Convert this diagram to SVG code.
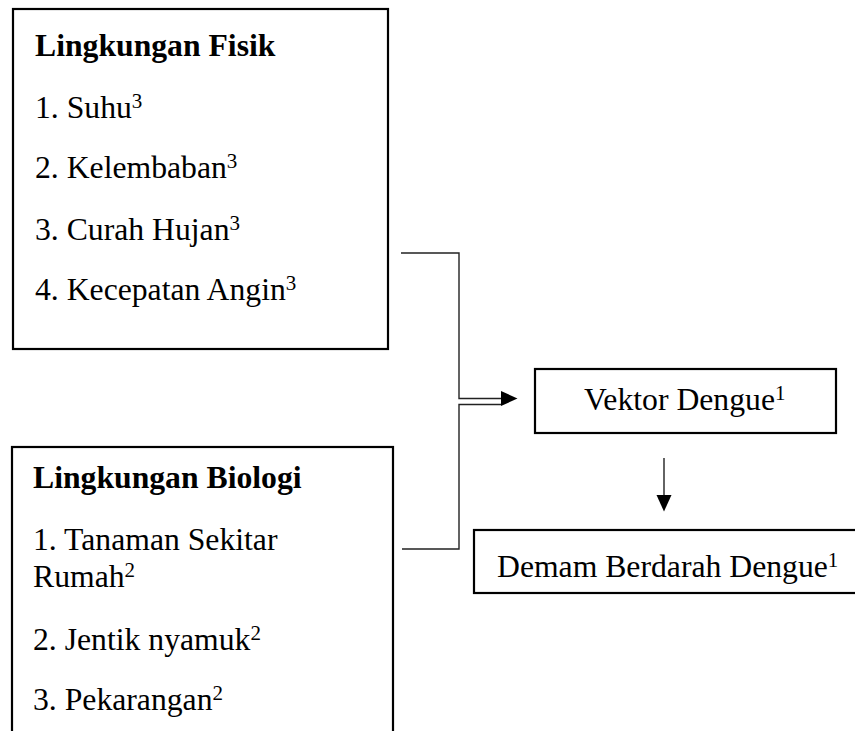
<svg xmlns="http://www.w3.org/2000/svg" width="855" height="731" viewBox="0 0 855 731">
<style>
.box{fill:#fff;stroke:#000;stroke-width:2.2}
.t{font-family:"Liberation Serif","Times New Roman",serif;font-size:31.7px;fill:#000}
.b{font-weight:bold}
.sup{font-size:21px}
.con{fill:none;stroke:#222;stroke-width:1.4}
</style>
<defs>
<marker id="ah" markerUnits="userSpaceOnUse" markerWidth="17" markerHeight="16" refX="0" refY="7.5" orient="auto" viewBox="0 0 17 16">
<path d="M0,0 L16.5,7.5 L0,15 z" fill="#000"/>
</marker>
</defs>
<rect width="855" height="731" fill="#fff"/>
<g id="connectors">
<path class="con" d="M401,253 H459 V398.5 H501" marker-end="url(#ah)"/>
<path class="con" d="M402,549 H459 V404.5 H501"/>
<path class="con" d="M664,458 V495" marker-end="url(#ah)"/>
</g>
<g id="lingkungan-fisik">
<rect class="box" x="13" y="9" width="375" height="340"/>
<text class="t b" x="35" y="56">Lingkungan Fisik</text>
<text class="t" x="35" y="118">1. Suhu<tspan class="sup" dy="-10">3</tspan></text>
<text class="t" x="35" y="178">2. Kelembaban<tspan class="sup" dy="-10">3</tspan></text>
<text class="t" x="35" y="240">3. Curah Hujan<tspan class="sup" dy="-10">3</tspan></text>
<text class="t" x="35" y="300">4. Kecepatan Angin<tspan class="sup" dy="-10">3</tspan></text>
</g>
<g id="lingkungan-biologi">
<rect class="box" x="12" y="447" width="381" height="300"/>
<text class="t b" x="33" y="488">Lingkungan Biologi</text>
<text class="t" x="33" y="550">1. Tanaman Sekitar</text>
<text class="t" x="33" y="587">Rumah<tspan class="sup" dy="-10">2</tspan></text>
<text class="t" x="33" y="650">2. Jentik nyamuk<tspan class="sup" dy="-10">2</tspan></text>
<text class="t" x="33" y="710">3. Pekarangan<tspan class="sup" dy="-10">2</tspan></text>
</g>
<g id="vektor-dengue">
<rect class="box" x="535" y="369" width="301" height="64"/>
<text class="t" x="584" y="410">Vektor Dengue<tspan class="sup" dy="-10">1</tspan></text>
</g>
<g id="demam-berdarah-dengue">
<rect class="box" x="474" y="530" width="400" height="63"/>
<text class="t" x="497" y="577">Demam Berdarah Dengue<tspan class="sup" dy="-10">1</tspan></text>
</g>
</svg>
